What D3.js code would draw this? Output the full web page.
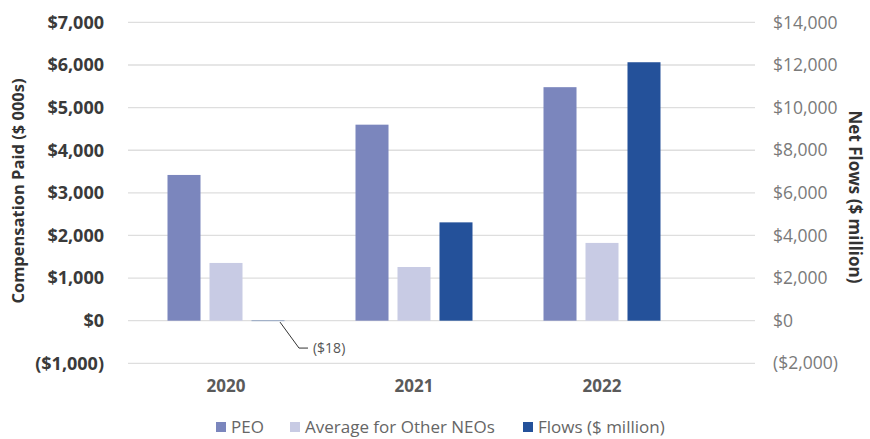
<!DOCTYPE html>
<html><head><meta charset="utf-8">
<script src="https://cdn.jsdelivr.net/npm/d3@7"></script>
<style>
body{margin:0;background:#fff;}
svg{display:block;font-family:"Open Sans",sans-serif;}
</style></head>
<body><svg id="c" width="870" height="439"></svg>
<script>
const years = ["2020","2021","2022"];
const peo = [3420, 4600, 5480];
const otherNeos = [1355, 1260, 1825];
const flows = [-18, 4615, 12130];
const leftTicks = [-1000,0,1000,2000,3000,4000,5000,6000,7000];
const rightTicks = [-2000,0,2000,4000,6000,8000,10000,12000,14000];
const seriesNames = ["PEO","Average for Other NEOs","Flows ($ million)"];
const colors = ["#7b86bd","#c8cbe4","#24519a"];

const svg = d3.select("#c");
const x0 = d3.scaleBand().domain(years).range([132,696]).padding(0);
const x1 = d3.scaleBand().domain([0,1,2]).range([-58.5,58.5]).paddingInner(0.214);
const yL = d3.scaleLinear().domain([-1000,7000]).range([363.3,22.4]);
const yR = d3.scaleLinear().domain([-2000,14000]).range([363.3,22.4]);
const fmt = v => v<0 ? "($"+d3.format(",")(-v)+")" : "$"+d3.format(",")(v);

// gridlines
svg.append("g").selectAll("line").data(leftTicks).join("line")
  .attr("x1",128).attr("x2",755).attr("y1",d=>yL(d)).attr("y2",d=>yL(d))
  .attr("stroke","#dedede").attr("stroke-width",1.3);

// left axis
const gl = svg.append("g").attr("transform","translate(104,0)")
  .call(d3.axisLeft(yL).tickValues(leftTicks).tickFormat(fmt).tickSize(0).tickPadding(0));
gl.select(".domain").remove();
gl.selectAll("text").attr("font-size",18).attr("font-weight","bold").attr("fill","#3a3a3a")
  .attr("font-family","'Open Sans',sans-serif");

// right axis
const gr = svg.append("g").attr("transform","translate(773,0)")
  .call(d3.axisRight(yR).tickValues(rightTicks).tickFormat(fmt).tickSize(0).tickPadding(0));
gr.select(".domain").remove();
gr.selectAll("text").attr("font-size",17.5).attr("fill","#7a7a7a")
  .attr("font-family","'Open Sans',sans-serif");

// bars
const rows = years.map((y,i)=>({year:y, vals:[{k:0,v:peo[i],s:yL},{k:1,v:otherNeos[i],s:yL},{k:2,v:flows[i],s:yR}]}));
const grp = svg.append("g").selectAll("g").data(rows).join("g")
  .attr("transform",d=>`translate(${x0(d.year)+x0.bandwidth()/2},0)`);
grp.selectAll("rect").data(d=>d.vals).join("rect")
  .attr("x",d=>x1(d.k)).attr("width",x1.bandwidth())
  .attr("y",d=>Math.min(d.s(d.v),d.s(0)))
  .attr("height",d=>Math.abs(d.s(d.v)-d.s(0)))
  .attr("fill",d=>colors[d.k]);

// year labels
svg.append("g").selectAll("text").data(years).join("text")
  .attr("x",d=>x0(d)+x0.bandwidth()/2).attr("y",392)
  .attr("text-anchor","middle").attr("font-size",17).attr("font-weight","bold")
  .attr("fill","#5a5a5a").text(d=>d);

// annotation ($18)
const ax = x0("2020")+x0.bandwidth()/2 + x1(2) + x1.bandwidth()/2 + 12;
const ay = yR(flows[0]);
svg.append("path").attr("d",`M${ax},${ay+1} L${ax+19},${ay+27} L${ax+28},${ay+27}`)
  .attr("fill","none").attr("stroke","#333").attr("stroke-width",1);
svg.append("text").attr("x",ax+33).attr("y",ay+32).attr("font-size",14)
  .attr("fill","#555").text(fmt(flows[0]));

// axis titles
svg.append("text").attr("transform","translate(24,191) rotate(-90)")
  .attr("text-anchor","middle").attr("font-size",16.5).attr("font-weight","bold")
  .attr("fill","#333").text("Compensation Paid ($ 000s)");
svg.append("text").attr("transform","translate(849,197) rotate(90)")
  .attr("text-anchor","middle").attr("font-size",17).attr("font-weight","bold")
  .attr("fill","#333").text("Net Flows ($ million)");

// legend
const legX = [216, 290, 523];
const lg = svg.append("g").selectAll("g").data(seriesNames).join("g")
  .attr("transform",(d,i)=>`translate(${legX[i]},421)`);
lg.append("rect").attr("width",10).attr("height",10).attr("y",1).attr("fill",(d,i)=>colors[i]);
lg.append("text").attr("x",15).attr("y",12).attr("font-size",17).attr("fill","#666").text(d=>d);
</script></body></html>
